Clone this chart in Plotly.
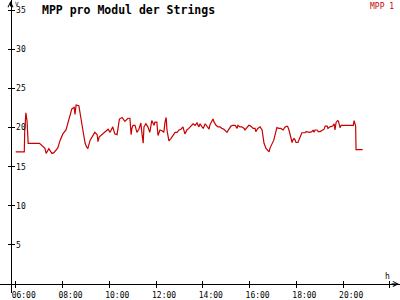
import plotly.graph_objects as go

# time in minutes after midnight, MPP voltage per module (V)
minutes = [360, 382, 383, 386, 389, 392, 421, 425, 430, 435, 438, 442, 445, 449, 453, 458, 461, 468,
           474, 481, 489, 497, 504, 510, 512, 515, 522, 527, 533, 538, 542, 545, 551, 558, 563, 569,
           571, 574, 581, 589, 597, 602, 609, 614, 620, 626, 633, 640, 648, 653, 656, 658, 661, 666,
           671, 676, 681, 684, 687, 689, 694, 699, 704, 709, 715, 717, 722, 725, 730, 735, 740, 743,
           746, 748, 751, 753, 758, 764, 769, 774, 779, 784, 789, 794, 799, 804, 810, 815, 820, 825,
           830, 833, 838, 841, 846, 851, 856, 858, 864, 866, 869, 874, 879, 884, 889, 894, 902, 907,
           912, 917, 923, 928, 930, 935, 940, 946, 948, 953, 958, 963, 969, 974, 976, 981, 987, 992,
           994, 997, 1002, 1007, 1010, 1012, 1015, 1020, 1022, 1025, 1028, 1030, 1035, 1040, 1046,
           1051, 1056, 1058, 1061, 1064, 1066, 1069, 1071, 1074, 1077, 1079, 1084, 1087, 1089, 1092,
           1094, 1102, 1105, 1110, 1115, 1120, 1123, 1125, 1128, 1133, 1136, 1141, 1146, 1151, 1154,
           1159, 1161, 1166, 1173, 1177, 1179, 1182, 1186, 1188, 1192, 1195, 1226, 1228, 1232, 1233,
           1250]
mpp1 = [16.9, 16.9, 19.4, 21.9, 20.9, 18.0, 18.0, 17.8, 17.6, 17.35, 16.7, 17.0, 17.3, 17.0, 16.7,
        16.8, 17.0, 17.4, 18.4, 19.2, 19.7, 21.3, 22.4, 22.6, 21.7, 22.9, 22.8, 21.3, 19.7, 18.0, 17.5,
        17.35, 18.4, 19.1, 19.4, 19.1, 18.2, 18.8, 19.1, 19.4, 19.8, 19.4, 20.1, 19.2, 19.1, 21.1, 21.3,
        20.8, 21.2, 21.2, 19.1, 19.9, 20.3, 20.3, 19.4, 19.8, 20.6, 19.2, 18.0, 20.1, 20.5, 20.1, 19.4,
        20.9, 20.3, 20.7, 20.7, 19.0, 19.7, 19.6, 19.4, 20.7, 21.3, 19.7, 18.8, 18.3, 18.6, 19.0, 19.4,
        19.4, 19.7, 19.8, 20.1, 19.2, 19.7, 19.9, 20.3, 20.5, 20.3, 20.6, 20.1, 20.5, 20.1, 19.9, 20.5,
        20.1, 19.8, 20.3, 20.9, 21.1, 20.7, 20.3, 20.1, 20.1, 19.9, 19.8, 19.4, 19.8, 20.2, 20.3, 20.3,
        19.9, 20.3, 20.1, 20.1, 19.9, 19.7, 20.0, 20.3, 20.2, 19.9, 19.9, 19.5, 19.9, 20.1, 19.7, 18.8,
        18.0, 17.35, 17.1, 16.9, 17.35, 17.65, 18.0, 18.4, 19.0, 19.7, 20.0, 19.9, 19.9, 19.7, 20.1,
        20.2, 20.1, 19.7, 19.0, 18.4, 18.1, 18.4, 18.6, 18.4, 18.1, 18.1, 18.4, 18.8, 19.1, 19.35,
        19.35, 19.5, 19.4, 19.4, 19.5, 19.7, 19.4, 19.7, 19.7, 19.5, 19.5, 19.7, 19.8, 20.2, 20.2,
        19.9, 20.1, 20.2, 20.5, 19.7, 20.7, 20.9, 20.8, 20.0, 20.3, 20.3, 20.9, 20.2, 17.2, 17.2]

x_tickvals = [360, 480, 600, 720, 840, 960, 1080, 1200, 1320]
x_ticktext = ["06:00", "08:00", "10:00", "12:00", "14:00", "16:00", "18:00", "20:00", "22:00"]
y_tickvals = [5, 10, 15, 20, 25, 30, 35]

title = "MPP pro Modul der Strings"
series_name = "MPP 1"
red = "#c80000"
mono = "DejaVu Sans Mono"

XR = [319.7, 1345.8]
YR = [-1.1625, 36.3375]
XPOS = 9.3 / 300      # x-axis line at ~290.7 px from top
YPOS = 10.5 / 400     # y-axis line at ~10 px from left

fig = go.Figure()
fig.add_trace(go.Scatter(x=minutes, y=mpp1, mode="lines", name=series_name,
                         line=dict(color=red, width=1.2), hoverinfo="skip"))
fig.add_trace(go.Scatter(x=[minutes[0]], y=[mpp1[0]], xaxis="x2", yaxis="y2", mode="markers",
                         marker=dict(opacity=0), showlegend=False, hoverinfo="skip"))

axfont = dict(family=mono, size=8, color="black")
fig.update_layout(
    width=400, height=300, margin=dict(l=0, r=0, t=0, b=0, pad=0),
    paper_bgcolor="white", plot_bgcolor="white", showlegend=False,
    xaxis=dict(range=XR, domain=[0, 1], anchor="free", position=XPOS, showgrid=False, zeroline=False,
               showline=True, linecolor="black", linewidth=1, ticks="outside", ticklen=3,
               tickcolor="black", tickvals=x_tickvals, ticktext=x_ticktext, tickfont=axfont,
               ticklabelstandoff=0, ticklabelshift=8),
    xaxis2=dict(range=XR, domain=[0, 1], anchor="free", position=XPOS, overlaying="x",
                showgrid=False, zeroline=False, showline=False, ticks="inside", ticklen=3,
                tickcolor="black", tickvals=x_tickvals, showticklabels=False),
    yaxis=dict(range=YR, domain=[0, 1], anchor="free", position=YPOS, side="right", showgrid=False,
               zeroline=False, showline=True, linecolor="black", linewidth=1, ticks="outside",
               ticklen=3, tickcolor="black", tickvals=y_tickvals, tickfont=axfont,
               ticklabelstandoff=0, ticklabeloverflow="allow"),
    yaxis2=dict(range=YR, domain=[0, 1], anchor="free", position=YPOS, side="right",
                overlaying="y", showgrid=False, zeroline=False, showline=False, ticks="inside",
                ticklen=3, tickcolor="black", tickvals=y_tickvals, showticklabels=False),
    annotations=[
        dict(text="<b>" + title + "</b>", xref="paper", yref="paper", x=40 / 400, y=1 - 1 / 300,
             xanchor="left", yanchor="top", showarrow=False,
             font=dict(family=mono, size=11.5, color="black")),
        dict(text=series_name, xref="paper", yref="paper", x=396 / 400, y=1, xanchor="right",
             yanchor="top", showarrow=False, font=dict(family=mono, size=8, color=red)),
        dict(text="V", xref="paper", yref="paper", x=13 / 400, y=1 + 2 / 300, xanchor="left",
             yanchor="top", showarrow=False, font=dict(family=mono, size=6, color="black")),
        dict(text="h", xref="paper", yref="paper", x=387 / 400, y=1 - 276 / 300, xanchor="center",
             yanchor="top", showarrow=False, font=dict(family=mono, size=8, color="black")),
        dict(text="", xref="paper", yref="paper", x=YPOS, y=1, ax=0, ay=8,
             showarrow=True, arrowhead=5, arrowsize=1, arrowwidth=1, arrowcolor="black"),
        dict(text="", xref="paper", yref="paper", x=399 / 400, y=XPOS, ax=-9, ay=0,
             showarrow=True, arrowhead=5, arrowsize=1, arrowwidth=1, arrowcolor="black"),
    ],
)

fig.write_html("out.html")
